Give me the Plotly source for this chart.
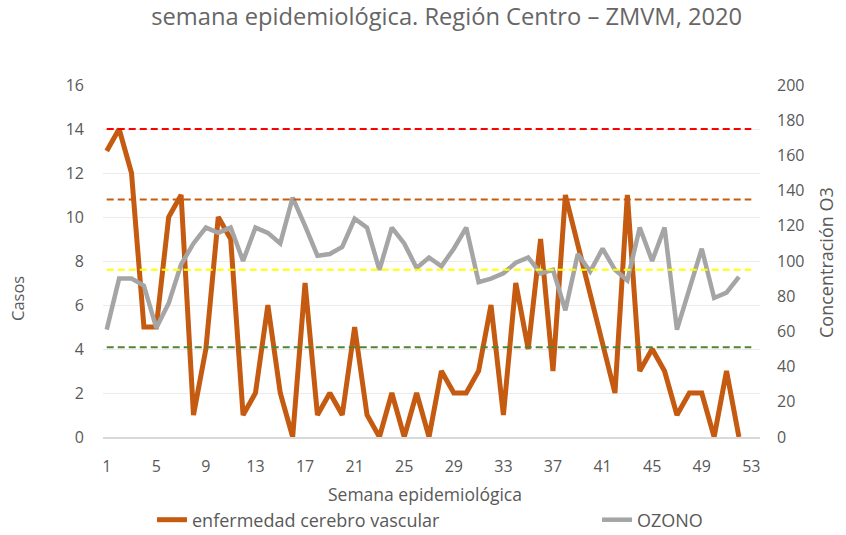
import plotly.graph_objects as go
from plotly.subplots import make_subplots

# datos
semanas = list(range(1, 53))
casos = [13, 14, 12, 5, 5, 10, 11, 1, 4, 10,
         9, 1, 2, 6, 2, 0, 7, 1, 2, 1,
         5, 1, 0, 2, 0, 2, 0, 3, 2, 2,
         3, 6, 1, 7, 4, 9, 3, 11, None, None,
         None, 2, 11, 3, 4, 3, 1, 2, 2, 0,
         3, 0]
ozono = [61, 90, 90, 86, 62, 76, 98, 110, 119, 116,
         119, 100, 119, 116, 110, 136, 120, 103, 104, 108,
         124, 119, 95, 119, 110, 96, 102, 97, 107, 119,
         88, 90, 93, 99, 102, 93, 95, 72, 104, 94,
         107, 95, 89, 119, 100, 119, 61, 85, 107, 79,
         82, 91]
limites_o3 = [51, 95, 135, 175]
colores_limites = ['#548235', '#FFFF00', '#C55A11', '#FF0000']
ticks_semana = list(range(1, 54, 4))

texto = '#595959'
fuente = 'Open Sans'

W, H = 846, 535
L, R, T, B = 103, 86, 85, 98


def px(x):
    # pixel horizontal -> coordenada paper
    return (x - L) / (W - L - R)


def py(y):
    # pixel vertical -> coordenada paper
    return (H - B - y) / (H - T - B)


fig = make_subplots(specs=[[{"secondary_y": True}]])

# casos (eje izquierdo)
fig.add_trace(go.Scatter(x=semanas, y=casos, mode='lines', name='enfermedad cerebro vascular',
                         line=dict(color='#C55A11', width=5), connectgaps=True, legend='legend'),
              secondary_y=False)
# ozono (eje derecho)
fig.add_trace(go.Scatter(x=semanas, y=ozono, mode='lines', name='OZONO',
                         line=dict(color='#A5A5A5', width=4.5), legend='legend2'),
              secondary_y=True)

# limites de ozono
for lim, col in zip(limites_o3, colores_limites):
    fig.add_shape(type='line', xref='x', yref='y2', x0=1, x1=53, y0=lim, y1=lim,
                  line=dict(color=col, width=2, dash='7px,4px'), layer='above')

fig.update_layout(
    width=W, height=H,
    margin=dict(l=L, r=R, t=T, b=B, autoexpand=False),
    paper_bgcolor='white', plot_bgcolor='white',
    font=dict(family=fuente, color=texto, size=16),
    title=dict(text='semana epidemiológica. Región Centro – ZMVM, 2020',
               x=0.528, xanchor='center', y=1 - 17 / H, yanchor='middle',
               font=dict(size=23.7, color='#666666')),
    showlegend=True,
    legend=dict(xref='container', yref='container', x=152 / W, y=1 - 520 / H,
                xanchor='left', yanchor='middle', font=dict(size=18, color=texto)),
    legend2=dict(xref='container', yref='container', x=597 / W, y=1 - 520 / H,
                 xanchor='left', yanchor='middle', font=dict(size=18, color=texto)),
    annotations=[
        dict(text='Semana epidemiológica', xref='paper', yref='paper', x=0.49, y=py(494),
             showarrow=False, font=dict(size=17.5, color=texto), xanchor='center', yanchor='middle'),
        dict(text='Casos', xref='paper', yref='paper', x=px(17), y=py(299),
             showarrow=False, textangle=-90, font=dict(size=16.5, color=texto),
             xanchor='center', yanchor='middle'),
        dict(text='Concentración O3', xref='paper', yref='paper', x=px(826), y=py(263),
             showarrow=False, textangle=-90, font=dict(size=18, color=texto),
             xanchor='center', yanchor='middle'),
    ],
)

fig.update_xaxes(domain=[0, 1], range=[0.7, 53.7], tickvals=ticks_semana, showgrid=False,
                 automargin=False, showline=True, linecolor='#D9D9D9', linewidth=1.5, ticks='',
                 ticklabelstandoff=14, tickfont=dict(size=16))
fig.update_yaxes(range=[0, 16], dtick=2, showgrid=True, gridcolor='#EBEBEB', zeroline=False,
                 automargin=False, ticklabelstandoff=18, tickfont=dict(size=16), secondary_y=False)
fig.update_yaxes(range=[0, 200], dtick=20, showgrid=False, zeroline=False,
                 automargin=False, ticklabelstandoff=16, tickfont=dict(size=16), secondary_y=True)

fig.write_html("out.html", config={'displayModeBar': False},
               post_script="document.body.style.margin='0';")
